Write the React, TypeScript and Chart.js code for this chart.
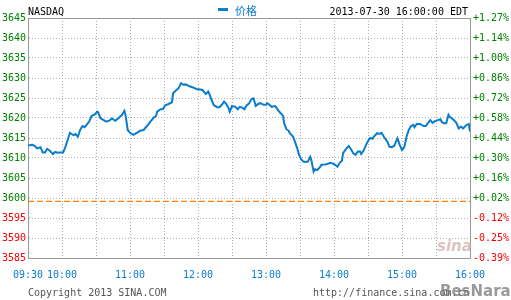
import React, { useEffect, useRef } from "react";
import { Chart, registerables } from "chart.js";

Chart.register(...registerables);

// minutes after 09:30
const minutes = [0,4,6,8,11,13,15,17,19,22,24,26,28,31,33,35,37,40,42,44,46,48,50,54,56,59,61,62,64,66,69,72,74,77,80,83,85,86,88,90,93,96,99,102,105,108,111,113,114,117,119,121,124,127,128,131,133,135,137,139,142,145,149,151,154,156,157,159,160,162,164,167,169,171,173,175,177,178,180,183,185,187,189,191,193,195,197,199,201,203,205,208,210,211,213,215,218,219,221,223,225,226,228,230,231,234,236,238,239,241,243,245,247,249,250,252,253,255,257,259,262,264,267,269,271,273,275,277,278,281,283,285,287,289,291,293,294,296,299,301,302,304,305,308,310,312,314,317,319,321,323,325,326,328,330,332,334,336,338,340,341,343,346,349,351,353,355,357,359,361,364,365,367,369,371,372,375,378,380,382,384,387,389,390];
const prices = [3613.1,3613.3,3613.0,3612.4,3612.7,3611.4,3611.4,3612.3,3611.9,3611.0,3611.5,3611.3,3611.4,3611.4,3612.8,3614.5,3616.3,3615.7,3616.0,3615.3,3617.0,3618.0,3617.7,3619.1,3620.5,3620.9,3621.6,3621.4,3619.9,3619.6,3619.1,3619.4,3619.9,3619.3,3620.0,3620.8,3621.8,3620.8,3617.0,3616.3,3615.8,3616.3,3616.8,3617.0,3618.0,3619.1,3620.1,3620.5,3621.6,3622.2,3622.2,3623.2,3623.5,3623.9,3626.2,3627.0,3627.5,3628.7,3628.3,3628.4,3628.0,3627.7,3627.2,3627.2,3627.0,3626.3,3626.0,3626.6,3626.0,3624.5,3623.2,3622.7,3622.7,3623.3,3624.1,3623.5,3622.4,3621.6,3623.0,3622.8,3622.2,3622.8,3622.6,3622.2,3623.2,3623.6,3624.7,3624.9,3623.0,3623.5,3623.7,3623.3,3623.3,3623.7,3623.3,3622.8,3623.0,3622.7,3621.8,3621.2,3620.6,3618.7,3617.2,3616.8,3616.2,3615.3,3613.7,3612.0,3610.9,3609.7,3609.1,3609.0,3609.1,3610.3,3609.5,3606.6,3607.2,3607.0,3607.5,3608.3,3608.4,3608.5,3608.8,3608.6,3608.3,3607.8,3608.8,3609.3,3611.2,3612.4,3613.0,3612.2,3611.2,3610.8,3611.6,3611.6,3611.0,3611.8,3613.7,3614.7,3615.0,3614.8,3615.3,3616.2,3616.0,3616.3,3615.3,3614.1,3612.8,3612.7,3613.0,3614.3,3614.9,3613.3,3612.0,3612.7,3615.3,3617.0,3618.0,3618.3,3617.7,3618.5,3618.5,3618.0,3618.0,3618.8,3619.5,3618.8,3619.2,3619.4,3619.7,3619.0,3618.7,3618.7,3620.8,3620.3,3619.7,3618.8,3617.4,3617.8,3617.4,3618.3,3618.5,3616.6];

const prevClose = 3599.15;
const yMin = 3585;
const yMax = 3645;
const yStep = 5;
const rightTickLabels = ["-0.39%","-0.25%","-0.12%","+0.02%","+0.16%","+0.30%","+0.44%","+0.58%","+0.72%","+0.86%","+1.00%","+1.14%","+1.27%"];
const xTickMinutes = [0,30,90,150,210,270,330,390];
const xTickLabels = ["09:30","10:00","11:00","12:00","13:00","14:00","15:00","16:00"];
const sessionLength = 390;

const MONO = "'DejaVu Sans Mono', monospace";
const BLUE = "#0a7dce";
const GREEN = "#008000";
const RED = "#ff0000";

export default function App() {
  const ref = useRef<HTMLCanvasElement | null>(null);

  useEffect(() => {
    document.body.style.margin = "0";
    const canvas = ref.current;
    if (!canvas) return;
    const topBorder = {
      id: "topBorder",
      afterDraw(chart: any) {
        const { ctx, chartArea } = chart;
        ctx.save();
        ctx.strokeStyle = "#999";
        ctx.lineWidth = 1;
        ctx.beginPath();
        ctx.moveTo(chartArea.left, Math.round(chartArea.top) + 0.5);
        ctx.lineTo(chartArea.right + 1, Math.round(chartArea.top) + 0.5);
        ctx.stroke();
        ctx.restore();
      },
    };
    const chart = new Chart(canvas, {
      type: "line",
      data: {
        datasets: [
          {
            label: "价格",
            data: minutes.map((m, i) => ({ x: m, y: prices[i] })),
            borderColor: BLUE,
            borderWidth: 2,
            pointRadius: 0,
            tension: 0,
            fill: false,
          },
          {
            label: "prev",
            data: [
              { x: 0, y: prevClose },
              { x: sessionLength, y: prevClose },
            ],
            borderColor: "#ff8000",
            borderWidth: 1.2,
            borderDash: [6, 3],
            pointRadius: 0,
            fill: false,
          },
        ],
      },
      options: {
        responsive: false,
        animation: false,
        layout: { padding: { top: 18, left: 0, right: 0, bottom: 0 } },
        plugins: { legend: { display: false }, tooltip: { enabled: false } },
        scales: {
          x: {
            type: "linear",
            min: 0,
            max: sessionLength,
            ticks: {
              stepSize: 30,
              autoSkip: false,
              maxRotation: 0,
              padding: 11,
              color: BLUE,
              font: { family: MONO, size: 10 },
              callback: (v: any) => {
                const i = xTickMinutes.indexOf(Number(v));
                return i >= 0 ? xTickLabels[i] : "";
              },
            },
            grid: { color: "#b0b0b0", drawTicks: false, lineWidth: 1 },
            border: { display: true, color: "#999", width: 1, dash: [1, 2] },
            afterFit: (s: any) => {
              s.height = 42;
            },
          },
          y: {
            type: "linear",
            position: "left",
            min: yMin,
            max: yMax,
            ticks: {
              stepSize: yStep,
              padding: 2,
              font: { family: MONO, size: 10 },
              color: (c: any) => (c.tick && c.tick.value >= 3600 ? GREEN : RED),
              callback: (v: any) => String(v),
            },
            grid: { color: "#b0b0b0", drawTicks: false, lineWidth: 1 },
            border: { display: true, color: "#999", width: 1, dash: [1, 2] },
            afterFit: (s: any) => {
              s.width = 28;
            },
          },
          y2: {
            type: "linear",
            position: "right",
            min: yMin,
            max: yMax,
            ticks: {
              stepSize: yStep,
              padding: 3,
              font: { family: MONO, size: 10 },
              color: (c: any) => (rightTickLabels[c.index] || "").startsWith("-") ? RED : GREEN,
              callback: (_v: any, i: number) => rightTickLabels[i],
            },
            grid: { display: false, drawTicks: false },
            border: { display: true, color: "#999", width: 1 },
            afterFit: (s: any) => {
              s.width = 41;
            },
          },
        },
      },
      plugins: [topBorder],
    });
    return () => chart.destroy();
  }, []);

  const txt: React.CSSProperties = {
    position: "absolute",
    fontFamily: MONO,
    fontSize: "10px",
    lineHeight: "10px",
    whiteSpace: "nowrap",
  };

  return (
    <div style={{ position: "relative", width: 511, height: 300, background: "#fff", overflow: "hidden" }}>
      <canvas ref={ref} width={511} height={300} style={{ display: "block", width: 511, height: 300 }} />
      <div style={{ ...txt, left: 28, top: 7, color: "#000" }}>NASDAQ</div>
      <div style={{ position: "absolute", left: 218, top: 8, width: 10, height: 3, background: BLUE }} />
      <div style={{ ...txt, left: 235, top: 3, color: BLUE, fontFamily: "'Noto Sans CJK SC', sans-serif", fontSize: "11px", lineHeight: "14px" }}>价格</div>
      <div style={{ ...txt, right: 43, top: 7, color: "#000" }}>2013-07-30 16:00:00 EDT</div>
      <div style={{ ...txt, left: 28, top: 288, color: "#555" }}>Copyright 2013 SINA.COM</div>
      <div style={{ ...txt, left: 313, top: 288, color: "#555" }}>http://finance.sina.com.cn</div>
      <div style={{ ...txt, left: 437, top: 238, color: "rgba(205,170,170,0.7)", fontFamily: "'DejaVu Sans', sans-serif", fontSize: "15px", lineHeight: "16px", fontWeight: "bold", fontStyle: "italic" }}>sina</div>
      <div style={{ ...txt, left: 440, top: 283, color: "rgba(120,120,120,0.75)", fontFamily: "'DejaVu Sans', sans-serif", fontSize: "15px", lineHeight: "16px", fontWeight: "bold" }}>BesNara</div>
    </div>
  );
}
